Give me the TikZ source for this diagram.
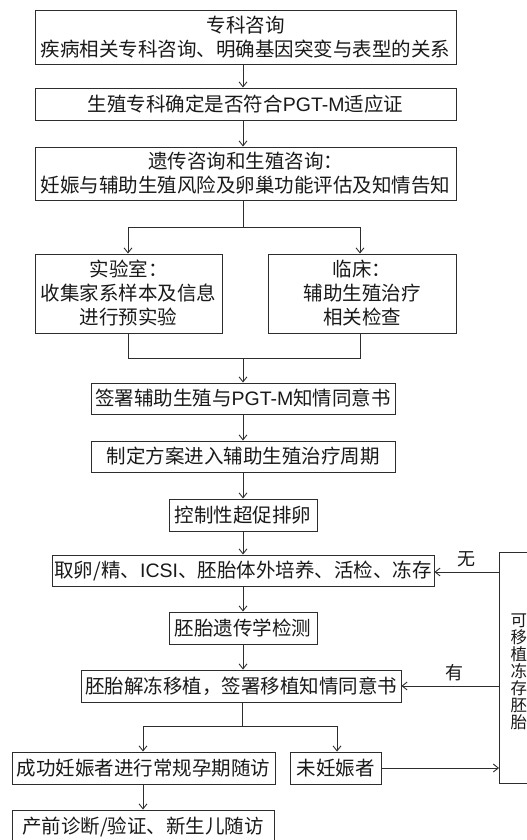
\documentclass[tikz,border=0pt]{standalone}
\usepackage{fontspec}
\setmainfont{Noto Sans CJK SC}
\newfontfamily\lat{Liberation Sans}
\usetikzlibrary{arrows.meta}
\definecolor{ln}{RGB}{45,45,45}
\definecolor{tx}{RGB}{25,25,25}
\begin{document}
\begin{tikzpicture}[x=1pt,y=-1pt,
  box/.style={draw=ln,line width=0.9pt,inner sep=0pt,align=center,text=tx,
    font=\fontsize{19.5}{24}\selectfont},
  arr/.style={draw=ln,line width=0.9pt,-{Straight Barb[length=5pt,width=8pt]}},
  ln/.style={draw=ln,line width=0.9pt},
  lbl/.style={inner sep=0pt,text=tx,font=\fontsize{18}{18}\selectfont}]
\useasboundingbox (0,0) rectangle (527,840);
\clip (0,0) rectangle (527,840);
\node[box,minimum width=421,minimum height=54] (n1) at (245.5,37)
  {专科咨询\\疾病相关专科咨询、明确基因突变与表型的关系};
\node[box,minimum width=421,minimum height=32] (n2) at (245.5,104)
  {生殖专科确定是否符合{\lat PGT-M}适应证};
\node[box,minimum width=421,minimum height=53] (n3) at (245.5,173.5)
  {遗传咨询和生殖咨询：\\妊娠与辅助生殖风险及卵巢功能评估及知情告知};
\node[box,minimum width=187,minimum height=79] (n4) at (128.5,293.5)
  {实验室：\\收集家系样本及信息\\进行预实验};
\node[box,minimum width=188,minimum height=79] (n5) at (362,293.5)
  {临床：\\辅助生殖治疗\\相关检查};
\node[box,minimum width=304,minimum height=31] (n6) at (243,398.5)
  {签署辅助生殖与{\lat PGT-M}知情同意书};
\node[box,minimum width=304,minimum height=31] (n7) at (243,456.5)
  {制定方案进入辅助生殖治疗周期};
\node[box,minimum width=148,minimum height=32] (n8) at (243,515)
  {控制性超促排卵};
\node[box,minimum width=382,minimum height=31] (n9) at (243,570.5)
  {取卵/精、{\lat ICSI}、胚胎体外培养、活检、冻存};
\node[box,minimum width=148,minimum height=32] (n10) at (243,628)
  {胚胎遗传学检测};
\node[box,minimum width=320,minimum height=32] (n11) at (241,686)
  {胚胎解冻移植，签署移植知情同意书};
\node[box,minimum width=263,minimum height=32] (n12) at (143.5,768)
  {成功妊娠者进行常规孕期随访};
\node[box,minimum width=91,minimum height=32] (n13) at (335.5,768)
  {未妊娠者};
\node[box,minimum width=262,minimum height=34] (n14) at (143,827)
  {产前诊断/验证、新生儿随访};
\node[draw=ln,line width=0.9pt,inner sep=0pt,minimum width=60,minimum height=231,anchor=north west] (rb) at (499,552) {};
\node[lbl,align=center,font=\fontsize{16.5}{17}\selectfont] (rt) at (518.8,672)
  {可\\移\\植\\冻\\存\\胚\\胎};
% connectors
\draw[arr] (n1.south -| 243,0) -- (n2.north -| 243,0);
\draw[arr] (n2.south -| 243,0) -- (n3.north -| 243,0);
\coordinate (s1) at (243,227);
\coordinate (s1l) at (128,227);
\coordinate (s1r) at (360,227);
\draw[ln] (n3.south -| s1) -- (s1);
\draw[ln] (s1l) -- (s1r);
\draw[arr] (s1l) -- (n4.north -| s1l);
\draw[arr] (s1r) -- (n5.north -| s1r);
\coordinate (m1) at (243,358);
\coordinate (m1l) at (128,358);
\coordinate (m1r) at (360,358);
\draw[ln] (n4.south -| m1l) -- (m1l) -- (m1r) -- (n5.south -| m1r);
\draw[arr] (m1) -- (n6.north -| m1);
\draw[arr] (n6.south -| m1) -- (n7.north -| m1);
\draw[arr] (n7.south -| m1) -- (n8.north -| m1);
\draw[arr] (n8.south -| m1) -- (n9.north -| m1);
\draw[arr] (n9.south -| m1) -- (n10.north -| m1);
\draw[arr] (n10.south -| m1) -- (n11.north -| m1);
\coordinate (s2) at (242,726);
\coordinate (s2l) at (143,726);
\coordinate (s2r) at (337,726);
\draw[ln] (n11.south -| s2) -- (s2);
\draw[ln] (s2l) -- (s2r);
\draw[arr] (s2l) -- (n12.north -| s2l);
\draw[arr] (s2r) -- (n13.north -| s2r);
\draw[arr] (n12.south -| s2l) -- (n14.north -| s2l);
\draw[arr] (n13.east) -- (n13.east -| rb.west);
\draw[arr] (rb.west |- 0,572) -- (n9.east |- 0,572) node[lbl,midway,above=5pt] (l1) {无};
\draw[arr] (rb.west |- n11.east) -- (n11.east) node[lbl,midway,above=5pt,xshift=4pt] (l2) {有};
\end{tikzpicture}
\end{document}
